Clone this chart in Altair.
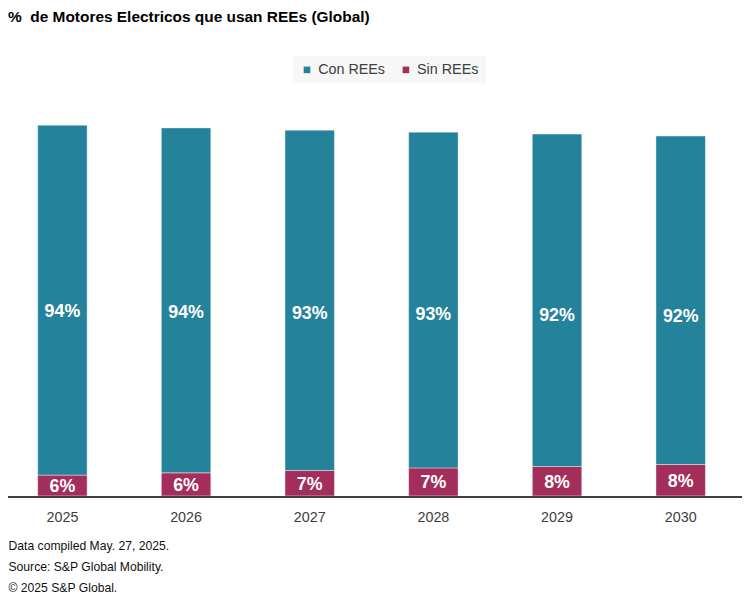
import altair as alt
import pandas as pd

years = ["2025", "2026", "2027", "2028", "2029", "2030"]
con_values = [353.7, 348.7, 344.0, 339.4, 336.0, 332.0]
sin_values = [21.0, 23.3, 25.7, 28.3, 29.7, 31.7]
con_labels = ["94%", "94%", "93%", "93%", "92%", "92%"]
sin_labels = ["6%", "6%", "7%", "7%", "8%", "8%"]
series = ["Con REEs", "Sin REEs"]
colors = ["#25829b", "#a32e5b"]
footer_lines = ["Data compiled May. 27, 2025.", "Source: S&P Global Mobility.", "© 2025 S&P Global."]
title_text = "%\u00a0\u00a0de Motores Electricos que usan REEs (Global)"

rows = []
for i, yr in enumerate(years):
    s = sin_values[i]
    c = con_values[i]
    rows.append({"year": yr, "serie": series[1], "y0": 0, "y1": s, "mid": s / 2, "label": sin_labels[i]})
    rows.append({"year": yr, "serie": series[0], "y0": s, "y1": s + c, "mid": (s + c) / 2, "label": con_labels[i]})
df = pd.DataFrame(rows)

FONT = "Liberation Sans"
H = 398

x_enc = alt.X(
    "year:N",
    sort=years,
    scale=alt.Scale(paddingInner=0.6, paddingOuter=0.24),
    axis=alt.Axis(
        domain=False, ticks=False, labelAngle=0, labelFontSize=14.5, labelColor="#404040",
        labelPadding=15, labelFont=FONT,
        title=footer_lines, titleAnchor="start", titleAlign="left", titleX=0, titleY=44,
        titleBaseline="top", titleFontSize=12.3, titleFontWeight="normal", titleLineHeight=21.5,
        titleColor="#111111", titleFont=FONT,
    ),
)
y_scale = alt.Scale(domain=[0, H], nice=False)

bars = alt.Chart(df).mark_bar(stroke="#ffffff", strokeWidth=0.7, strokeOpacity=0.6).encode(
    x=x_enc,
    y=alt.Y("y0:Q", scale=y_scale, axis=None),
    y2="y1:Q",
    color=alt.Color(
        "serie:N",
        scale=alt.Scale(domain=series, range=colors),
        legend=alt.Legend(
            title=None, orient="none", legendX=288, legendY=-47, direction="horizontal",
            fillColor="#f7f7f7", padding=7, symbolType="square", symbolSize=45,
            symbolStrokeWidth=0, labelFontSize=14.5, labelFont=FONT, labelColor="#404040",
            labelOffset=4, columnPadding=13,
        ),
    ),
)

labels = alt.Chart(df).mark_text(
    color="white", fontWeight="bold", fontSize=18, font=FONT, baseline="middle", dy=1.5
).encode(
    x=alt.X("year:N", sort=years),
    y=alt.Y("mid:Q", scale=y_scale),
    text="label:N",
)

axis_line = alt.Chart(df).mark_rule(color="#404040", strokeWidth=1.8).encode(
    x=alt.value(-6), x2=alt.value(742), y=alt.value(H + 1)
)

chart = alt.layer(bars, labels, axis_line).properties(
    width=735, height=H,
    padding={"left": 0, "top": 92, "right": 9, "bottom": 96},
    autosize=alt.AutoSizeParams(type="none"),
    title=alt.TitleParams(
        title_text, anchor="start", frame="group", dx=0, fontSize=15.6, fontWeight="bold",
        font=FONT, color="#000000", offset=30,
    ),
).configure_view(stroke=None)

chart.save("out.html", embed_options={"renderer": "svg", "actions": False})
